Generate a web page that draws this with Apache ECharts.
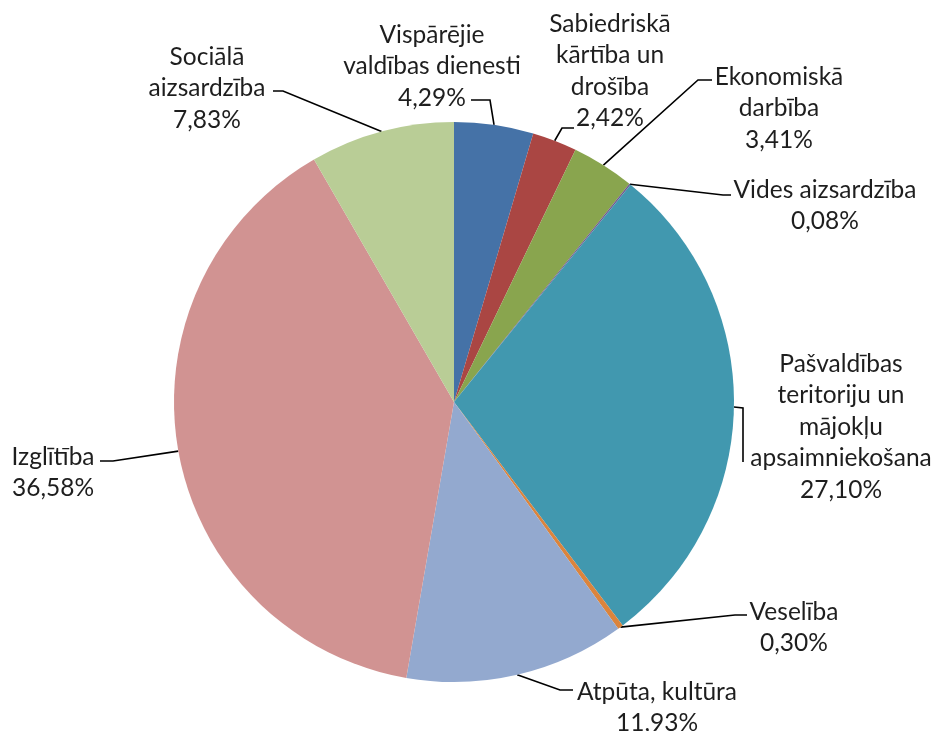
<!DOCTYPE html>
<html><head><meta charset="utf-8">
<script src="https://cdn.jsdelivr.net/npm/echarts@6/dist/echarts.min.js"></script>
<style>html,body{margin:0;padding:0;background:#fff}#c{width:938px;height:731px}</style>
</head><body><div id="c"></div>
<script>
const categories = [
  'Vispārējie\nvaldības dienesti',
  'Sabiedriskā\nkārtība un\ndrošība',
  'Ekonomiskā\ndarbība',
  'Vides aizsardzība',
  'Pašvaldības\nteritoriju un\nmājokļu\napsaimniekošana',
  'Veselība',
  'Atpūta, kultūra',
  'Izglītība',
  'Sociālā\naizsardzība'
];
const values = [4.29, 2.42, 3.41, 0.08, 27.10, 0.30, 11.93, 36.58, 7.83];
const colors = ['#4572A7', '#AA4643', '#89A54E', '#71588F', '#4198AF', '#DB843D', '#93A9CF', '#D19392', '#B9CD96'];

// label placement (layout only): text centre x, text top y, leader elbow and end
const labelPos = [
  {x: 432, y: 19,  elbow: [490, 100], end: [471, 100]},
  {x: 610, y: 8,   elbow: [562, 128], end: [574, 128]},
  {x: 779, y: 61,  elbow: [698, 80],  end: [712, 80]},
  {x: 825, y: 174, elbow: [723, 195], end: [731, 195]},
  {x: 841, y: 348, elbow: [743, 408], end: [743, 462]},
  {x: 794, y: 596, elbow: [735, 615], end: [747, 615]},
  {x: 657, y: 676, elbow: [560, 690], end: [573, 690]},
  {x: 53,  y: 441, elbow: [113, 461], end: [100, 461]},
  {x: 207, y: 41,  elbow: [283, 91],  end: [273, 91]}
];

const chart = echarts.init(document.getElementById('c'), null, {renderer: 'canvas'});
chart.setOption({
  animation: false,
  backgroundColor: '#fff',
  series: [{
    type: 'pie',
    center: [454, 402],
    radius: 280,
    startAngle: 90,
    clockwise: true,
    avoidLabelOverlap: false,
    data: categories.map((c, i) => ({name: c, value: values[i], itemStyle: {color: colors[i]}})),
    itemStyle: {borderWidth: 0},
    emphasis: {disabled: true},
    label: {
      show: true,
      position: 'outside',
      overflow: 'none',
      fontFamily: 'Lato',
      fontSize: 24.5,
      lineHeight: 31.5,
      color: '#1e1e1e',
      align: 'center',
      formatter: p => p.name + '\n' + p.value.toFixed(2).replace('.', ',') + '%'
    },
    labelLine: {show: true, length: 10, length2: 10, lineStyle: {color: '#000', width: 1.6}},
    labelLayout: function (params) {
      const p = labelPos[params.dataIndex];
      const res = {x: p.x, y: p.y, align: 'center', verticalAlign: 'top'};
      if (params.labelLinePoints && params.labelLinePoints.length) {
        res.labelLinePoints = [params.labelLinePoints[0], p.elbow, p.end];
      }
      return res;
    }
  }]
});
</script>
</body></html>
